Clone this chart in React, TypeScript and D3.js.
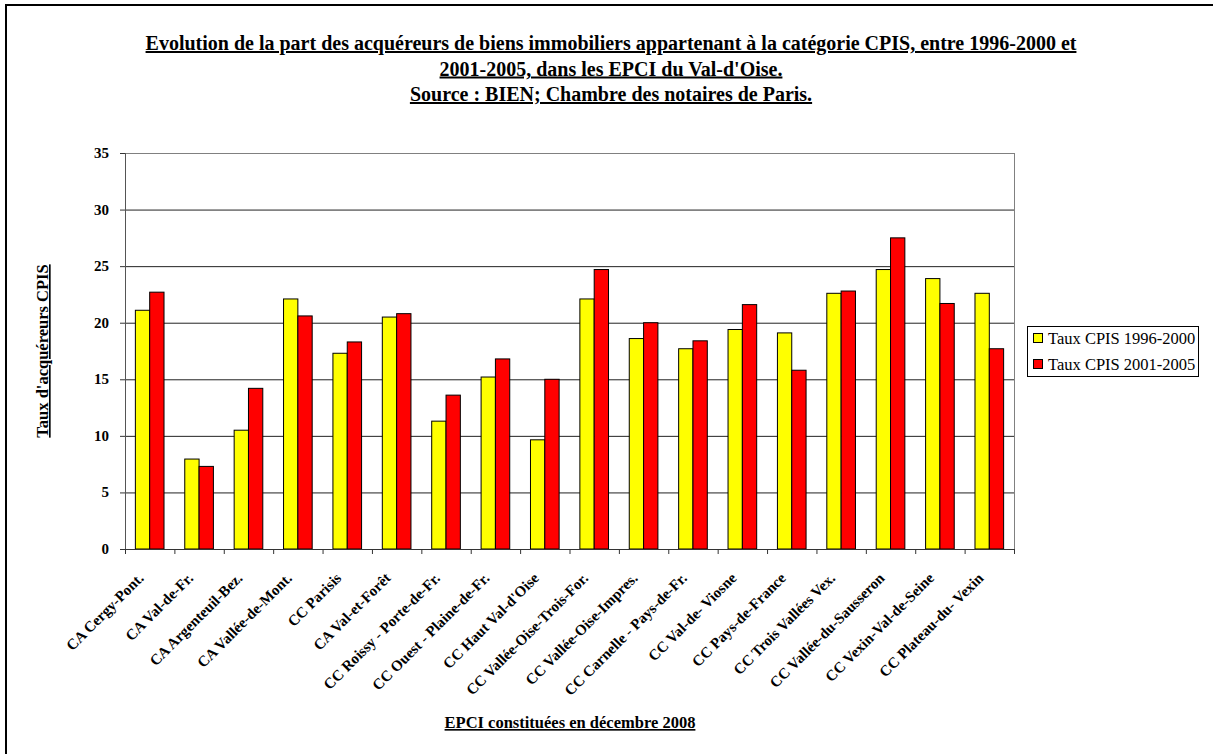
import React from "react";
import * as d3 from "d3";

const categories = [
  "CA Cergy-Pont.",
  "CA Val-de-Fr.",
  "CA Argenteuil-Bez.",
  "CA Vallée-de-Mont.",
  "CC Parisis",
  "CA Val-et-Forêt",
  "CC Roissy - Porte-de-Fr.",
  "CC Ouest - Plaine-de-Fr.",
  "CC Haut Val-d'Oise",
  "CC Vallée-Oise-Trois-For.",
  "CC Vallée-Oise-Impres.",
  "CC Carnelle - Pays-de-Fr.",
  "CC Val-de- Viosne",
  "CC Pays-de-France",
  "CC Trois Vallées Vex.",
  "CC Vallée-du-Sausseron",
  "CC Vexin-Val-de-Seine",
  "CC Plateau-du- Vexin",
];
const serie1996 = [21.1, 7.95, 10.5, 22.1, 17.3, 20.5, 11.3, 15.2, 9.65, 22.1, 18.6, 17.7, 19.4, 19.1, 22.6, 24.7, 23.9, 22.6];
const serie2001 = [22.7, 7.3, 14.2, 20.6, 18.3, 20.8, 13.6, 16.8, 15.0, 24.7, 20.0, 18.4, 21.6, 15.8, 22.8, 27.5, 21.7, 17.7];
const seriesNames = ["Taux CPIS 1996-2000", "Taux CPIS 2001-2005"];
const seriesColors = ["#FFFF00", "#FF0000"];
const yTicks = [0, 5, 10, 15, 20, 25, 30, 35];
const titleLines = [
  "Evolution de la part des acquéreurs de biens immobiliers appartenant à la catégorie CPIS, entre 1996-2000 et",
  "2001-2005, dans les EPCI du Val-d'Oise.",
  "Source : BIEN; Chambre des notaires de Paris.",
];
const yTitle = "Taux d'acquéreurs CPIS";
const xTitle = "EPCI constituées en décembre 2008";

const W = 1213;
const H = 754;
const plot = { left: 125, right: 1014, top: 153, bottom: 549 };
const serif = "'Liberation Serif', 'Times New Roman', serif";

export default function App() {
  const x = d3.scaleBand<string>().domain(categories).range([plot.left, plot.right]).padding(0);
  const y = d3.scaleLinear().domain([0, 35]).range([plot.bottom, plot.top]);
  const bw = x.bandwidth();
  const barW = bw * 0.29;
  const series = [serie1996, serie2001];

  return (
    <svg width={W} height={H} style={{ position: "absolute", left: 0, top: 0, background: "#fff" }} fontFamily={serif}>
      <rect x={0} y={0} width={W} height={H} fill="#fff" />
      {/* outer frame */}
      <line x1={5} y1={5} x2={W} y2={5} stroke="#000" strokeWidth={2} />
      <line x1={6} y1={5} x2={6} y2={H} stroke="#000" strokeWidth={2} />

      {/* title */}
      {titleLines.map((t, i) => (
        <text key={i} x={611} y={50 + i * 25.5} textAnchor="middle" fontSize={20} fontWeight="bold" textDecoration="underline" fill="#000">
          {t}
        </text>
      ))}

      {/* gridlines */}
      {yTicks.map((t) => (
        <line key={t} x1={plot.left} x2={plot.right} y1={y(t) + 0.5} y2={y(t) + 0.5} stroke={t === 0 ? "#333" : "#222"} strokeWidth={1} />
      ))}
      {/* plot frame right */}
      <line x1={plot.right + 0.5} x2={plot.right + 0.5} y1={plot.top} y2={plot.bottom} stroke="#808080" strokeWidth={1} />
      <line x1={plot.left} x2={plot.right} y1={plot.top + 0.5} y2={plot.top + 0.5} stroke="#808080" strokeWidth={1} />

      {/* bars */}
      {categories.map((c, i) => {
        const cx = (x(c) as number) + bw / 2;
        return (
          <g key={c}>
            {series.map((s, k) => (
              <rect
                key={k}
                x={cx - barW + k * barW}
                y={y(s[i])}
                width={barW}
                height={y(0) - y(s[i])}
                fill={seriesColors[k]}
                stroke="#000"
                strokeWidth={1}
              />
            ))}
          </g>
        );
      })}

      {/* y axis */}
      <line x1={plot.left + 0.5} x2={plot.left + 0.5} y1={plot.top} y2={plot.bottom} stroke="#555" strokeWidth={1} />
      {yTicks.map((t) => (
        <g key={t}>
          <line x1={plot.left - 5} x2={plot.left} y1={y(t) + 0.5} y2={y(t) + 0.5} stroke="#333" />
          <text x={109} y={y(t) + 5} textAnchor="end" fontSize={15} fontWeight="bold" fill="#000">
            {t}
          </text>
        </g>
      ))}

      {/* x axis */}
      <line x1={plot.left} x2={plot.right} y1={plot.bottom + 0.5} y2={plot.bottom + 0.5} stroke="#333" strokeWidth={1} />
      {categories.map((c, i) => (
        <line key={"t" + i} x1={(x(c) as number) + 0.5} x2={(x(c) as number) + 0.5} y1={plot.bottom} y2={plot.bottom + 5} stroke="#333" />
      ))}
      <line x1={plot.right + 0.5} x2={plot.right + 0.5} y1={plot.bottom} y2={plot.bottom + 5} stroke="#333" />
      {categories.map((c) => {
        const cx = (x(c) as number) + bw / 2 - 5;
        const ty = plot.bottom + 30;
        return (
          <text key={"l" + c} x={cx} y={ty} transform={`rotate(-45 ${cx} ${ty})`} textAnchor="end" fontSize={15} fontWeight="bold" fill="#000">
            {c}
          </text>
        );
      })}

      {/* axis titles */}
      <text x={0} y={0} transform={`translate(48 351) rotate(-90)`} textAnchor="middle" fontSize={16.5} fontWeight="bold" textDecoration="underline" fill="#000">
        {yTitle}
      </text>
      <text x={570} y={728} textAnchor="middle" fontSize={16.5} fontWeight="bold" textDecoration="underline" fill="#000">
        {xTitle}
      </text>

      {/* legend */}
      <rect x={1027.5} y={326.5} width={171} height={50} fill="#fff" stroke="#000" strokeWidth={1} />
      {seriesNames.map((n, k) => (
        <g key={n}>
          <rect x={1033.5} y={333.5 + k * 26} width={9} height={9} fill={seriesColors[k]} stroke="#000" strokeWidth={1} />
          <text x={1048} y={344 + k * 26} fontSize={16.5} fill="#000">
            {n}
          </text>
        </g>
      ))}
    </svg>
  );
}
